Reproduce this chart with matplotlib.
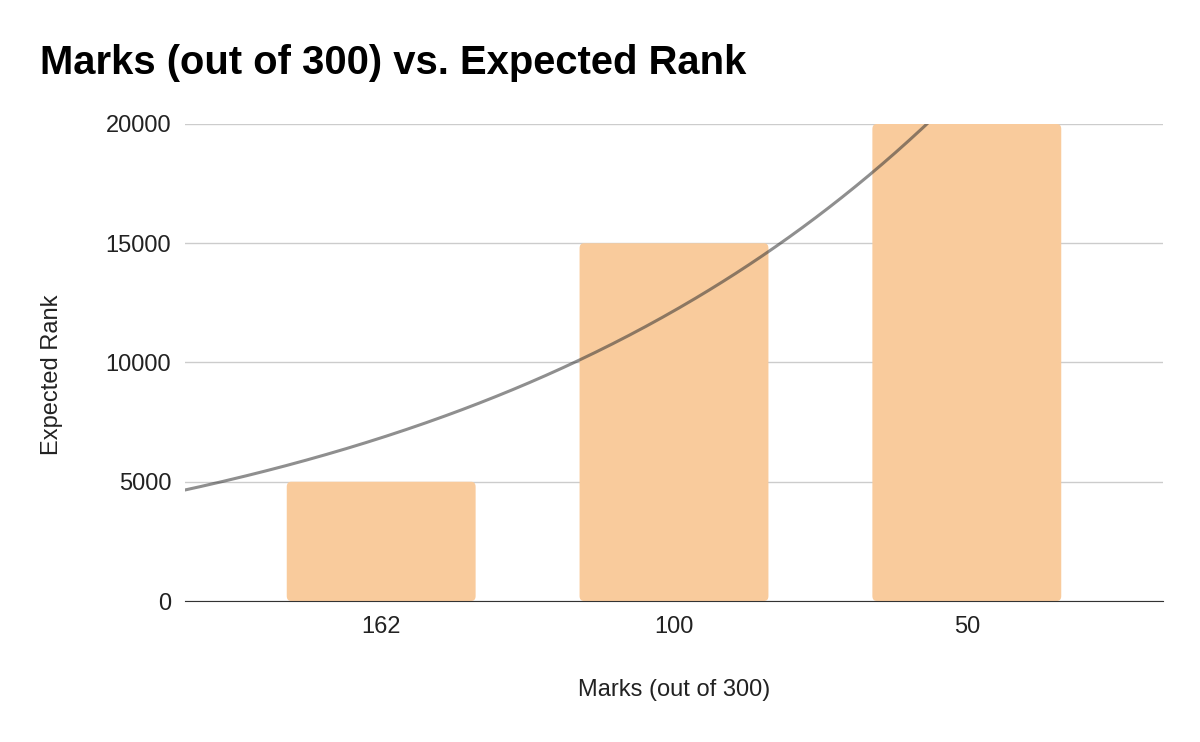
import matplotlib.pyplot as plt
import numpy as np
from matplotlib.patches import FancyBboxPatch

plt.rcParams['font.family'] = ['Liberation Sans', 'DejaVu Sans']

# data
marks = ["162", "100", "50"]
ranks = [5000, 15000, 20000]

fig = plt.figure(figsize=(12, 7.42), dpi=100)
ax = fig.add_axes([185/1200, 1 - 601/742, (1163-185)/1200, (601-124)/742])

x = np.arange(len(marks))
bars = ax.bar(x, ranks, width=0.645, color="#f9cb9c", zorder=2)

# rounded tops like google sheets
for b in bars:
    b.set_visible(False)
    p = FancyBboxPatch((b.get_x(), b.get_y()), b.get_width(), b.get_height(),
                       boxstyle="round,pad=0,rounding_size=0.015",
                       mutation_aspect=20000/0.65*0.45,
                       fc="#f9cb9c", ec="none", zorder=2)
    ax.add_patch(p)

# exponential trendline (log fit weighted by y, like sheets does)
ys = np.array(ranks, dtype=float)
b_fit, ln_a = np.polyfit(x.astype(float), np.log(ys), 1, w=np.sqrt(ys))
xt = np.linspace(-0.7, 2.7, 300)
ax.plot(xt, np.exp(ln_a) * np.exp(b_fit * xt), color="#333333", alpha=0.55, lw=2.2, zorder=3)

ax.set_xlim(-0.67, 2.67)
ax.set_ylim(0, 20000)
ax.set_yticks([0, 5000, 10000, 15000, 20000])
ax.set_xticks(x)
ax.set_xticklabels(marks)
ax.grid(axis="y", color="#cccccc", lw=1, zorder=0)
ax.set_axisbelow(True)
for s in ["top", "right", "left"]:
    ax.spines[s].set_visible(False)
ax.spines["bottom"].set_color("#333333")
ax.spines["bottom"].set_zorder(4)
ax.tick_params(length=0, labelsize=17, colors="#222222")
ax.tick_params(axis="x", pad=11)
ax.tick_params(axis="y", pad=10)

fig.text(674/1200, 1 - 690/742, "Marks (out of 300)", fontsize=17, color="#222222",
         ha="center", va="center")
fig.text(52/1200, 1 - 375/742, "Expected Rank", fontsize=17, color="#222222",
         ha="center", va="center", rotation=90)

fig.text(40/1200, 1 - 63/742, "Marks (out of 300) vs. Expected Rank",
         fontsize=28.8, fontweight="bold", va="center", ha="left")

fig.savefig("out.png", dpi=100)
